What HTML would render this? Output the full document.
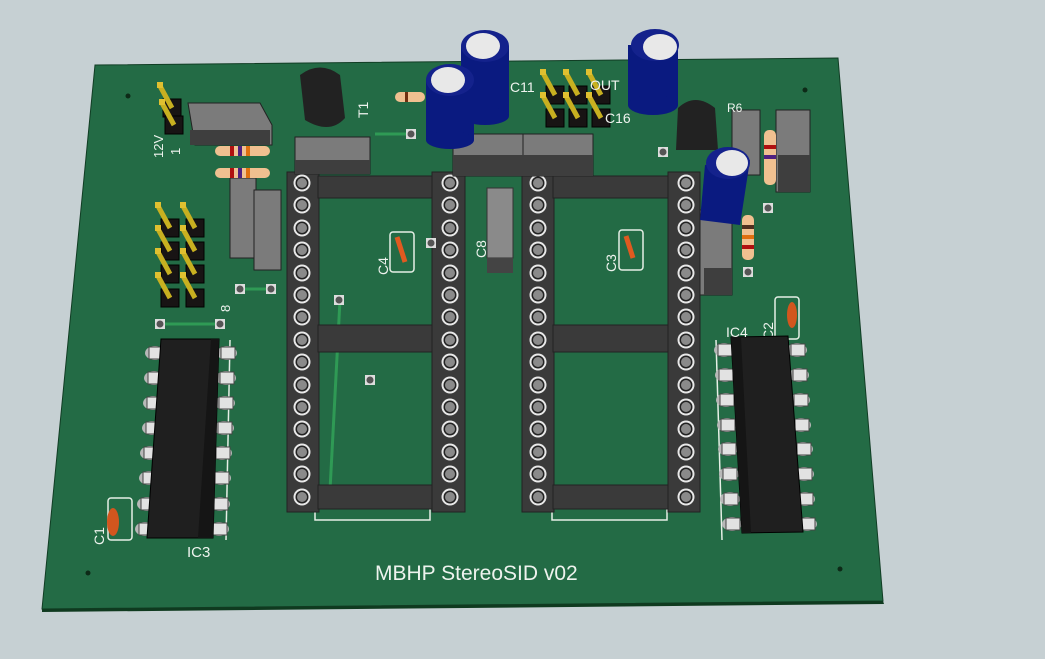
<!DOCTYPE html>
<html><head><meta charset="utf-8"><style>
html,body{margin:0;padding:0;background:#c6d0d3;width:1045px;height:659px;overflow:hidden}
svg{display:block}
text{font-family:"Liberation Sans",sans-serif;fill:#eef3ee}
</style></head><body>
<svg width="1045" height="659" viewBox="0 0 1045 659" xmlns="http://www.w3.org/2000/svg">
<defs>
<g id="pin"><circle r="8.5" fill="#e8e8e8"/><circle r="6.5" fill="#222"/><circle r="5" fill="#8a8a8a"/></g>
<g id="lg"><ellipse cx="0" cy="0" rx="10" ry="7" fill="#b8b8b8"/><rect x="-6" y="-6" width="14" height="12" fill="#e2e2e2" stroke="#444" stroke-width="1"/></g>
<g id="pad"><rect x="-5" y="-5" width="10" height="10" fill="#ddd"/><circle r="3.5" fill="#555"/></g>
<g id="hdr"><rect x="-9" y="-9" width="18" height="18" fill="#181414" stroke="#000"/><line x1="0" y1="0" x2="-12" y2="-22" stroke="#c8b020" stroke-width="5"/><rect x="-15" y="-26" width="6" height="6" fill="#e0c030"/></g>
</defs>
<polygon points="95,65 838,58 883,601 42,609" fill="#236b45" stroke="#113d24" stroke-width="1"/>
<polygon points="42,609 883,601 884,604 42,612" fill="#0f3a1f"/>
<circle cx="128" cy="96" r="2.5" fill="#0d2a17"/><circle cx="805" cy="90" r="2.5" fill="#0d2a17"/>
<circle cx="88" cy="573" r="2.5" fill="#0d2a17"/><circle cx="840" cy="569" r="2.5" fill="#0d2a17"/>
<g stroke="#2f9a55" stroke-width="3"><line x1="160" y1="324" x2="220" y2="324"/><line x1="240" y1="289" x2="270" y2="289"/><line x1="375" y1="134" x2="410" y2="134"/><line x1="340" y1="300" x2="330" y2="490"/></g>
<g fill="none" stroke="#e6efe6" stroke-width="1.5"><rect x="315" y="495" width="115" height="25"/><rect x="552" y="495" width="115" height="25"/><line x1="230" y1="340" x2="226" y2="540"/><line x1="716" y1="340" x2="722" y2="540"/></g>
<g fill="#3a3a3a" stroke="#222">
<rect x="287" y="172" width="32" height="340"/><rect x="432" y="172" width="33" height="340"/>
<rect x="318" y="176" width="114" height="22"/><rect x="318" y="325" width="114" height="27"/><rect x="318" y="485" width="114" height="24"/>
<rect x="522" y="172" width="32" height="340"/><rect x="668" y="172" width="32" height="340"/>
<rect x="553" y="176" width="115" height="22"/><rect x="553" y="325" width="115" height="27"/><rect x="553" y="485" width="115" height="24"/>
</g>
<g>
<use href="#pin" x="302" y="183"/><use href="#pin" x="302" y="205"/><use href="#pin" x="302" y="228"/><use href="#pin" x="302" y="250"/><use href="#pin" x="302" y="273"/><use href="#pin" x="302" y="295"/><use href="#pin" x="302" y="317"/><use href="#pin" x="302" y="340"/><use href="#pin" x="302" y="362"/><use href="#pin" x="302" y="385"/><use href="#pin" x="302" y="407"/><use href="#pin" x="302" y="429"/><use href="#pin" x="302" y="452"/><use href="#pin" x="302" y="474"/><use href="#pin" x="302" y="497"/>
<use href="#pin" x="450" y="183"/><use href="#pin" x="450" y="205"/><use href="#pin" x="450" y="228"/><use href="#pin" x="450" y="250"/><use href="#pin" x="450" y="273"/><use href="#pin" x="450" y="295"/><use href="#pin" x="450" y="317"/><use href="#pin" x="450" y="340"/><use href="#pin" x="450" y="362"/><use href="#pin" x="450" y="385"/><use href="#pin" x="450" y="407"/><use href="#pin" x="450" y="429"/><use href="#pin" x="450" y="452"/><use href="#pin" x="450" y="474"/><use href="#pin" x="450" y="497"/>
<use href="#pin" x="538" y="183"/><use href="#pin" x="538" y="205"/><use href="#pin" x="538" y="228"/><use href="#pin" x="538" y="250"/><use href="#pin" x="538" y="273"/><use href="#pin" x="538" y="295"/><use href="#pin" x="538" y="317"/><use href="#pin" x="538" y="340"/><use href="#pin" x="538" y="362"/><use href="#pin" x="538" y="385"/><use href="#pin" x="538" y="407"/><use href="#pin" x="538" y="429"/><use href="#pin" x="538" y="452"/><use href="#pin" x="538" y="474"/><use href="#pin" x="538" y="497"/>
<use href="#pin" x="686" y="183"/><use href="#pin" x="686" y="205"/><use href="#pin" x="686" y="228"/><use href="#pin" x="686" y="250"/><use href="#pin" x="686" y="273"/><use href="#pin" x="686" y="295"/><use href="#pin" x="686" y="317"/><use href="#pin" x="686" y="340"/><use href="#pin" x="686" y="362"/><use href="#pin" x="686" y="385"/><use href="#pin" x="686" y="407"/><use href="#pin" x="686" y="429"/><use href="#pin" x="686" y="452"/><use href="#pin" x="686" y="474"/><use href="#pin" x="686" y="497"/>
</g>
<rect x="390" y="232" width="24" height="40" rx="3" fill="none" stroke="#e6efe6" stroke-width="1.5"/><line x1="397" y1="237" x2="405" y2="262" stroke="#e05a20" stroke-width="5"/><text x="388" y="275" font-size="14" transform="rotate(-90 388 275)">C4</text>
<rect x="619" y="230" width="24" height="40" rx="3" fill="none" stroke="#e6efe6" stroke-width="1.5"/><line x1="626" y1="236" x2="633" y2="258" stroke="#e05a20" stroke-width="5"/><text x="616" y="272" font-size="14" transform="rotate(-90 616 272)">C3</text>
<rect x="108" y="498" width="24" height="42" rx="3" fill="none" stroke="#e6efe6" stroke-width="1.5"/><ellipse cx="113" cy="522" rx="6" ry="14" fill="#d2561e"/><text x="104" y="545" font-size="14" transform="rotate(-90 104 545)">C1</text>
<rect x="775" y="297" width="24" height="42" rx="3" fill="none" stroke="#e6efe6" stroke-width="1.5"/><ellipse cx="792" cy="315" rx="5" ry="13" fill="#d2561e"/><text x="773" y="340" font-size="14" transform="rotate(-90 773 340)">C2</text>
<rect x="487" y="188" width="26" height="70" fill="#8a8a8a" stroke="#333"/><rect x="487" y="258" width="26" height="15" fill="#444"/><text x="486" y="258" font-size="14" transform="rotate(-90 486 258)">C8</text>
<g><use href="#lg" x="155" y="353"/><use href="#lg" x="154" y="378"/><use href="#lg" x="153" y="403"/><use href="#lg" x="152" y="428"/><use href="#lg" x="150" y="453"/><use href="#lg" x="149" y="478"/><use href="#lg" x="147" y="504"/><use href="#lg" x="145" y="529"/>
<use href="#lg" x="227" y="353"/><use href="#lg" x="226" y="378"/><use href="#lg" x="225" y="403"/><use href="#lg" x="224" y="428"/><use href="#lg" x="222" y="453"/><use href="#lg" x="221" y="478"/><use href="#lg" x="220" y="504"/><use href="#lg" x="219" y="529"/></g>
<polygon points="161,339 219,339 213,538 147,538" fill="#1f1f1f" stroke="#000"/><polygon points="211,339 219,339 213,538 198,538" fill="#151515"/>
<text x="187" y="557" font-size="15">IC3</text>
<g><use href="#lg" x="724" y="350"/><use href="#lg" x="725" y="375"/><use href="#lg" x="726" y="400"/><use href="#lg" x="727" y="425"/><use href="#lg" x="728" y="449"/><use href="#lg" x="729" y="474"/><use href="#lg" x="730" y="499"/><use href="#lg" x="732" y="524"/>
<use href="#lg" x="797" y="350"/><use href="#lg" x="799" y="375"/><use href="#lg" x="800" y="400"/><use href="#lg" x="801" y="425"/><use href="#lg" x="803" y="449"/><use href="#lg" x="804" y="474"/><use href="#lg" x="805" y="499"/><use href="#lg" x="807" y="524"/></g>
<polygon points="731,337 788,336 803,532 742,533" fill="#1f1f1f" stroke="#000"/><polygon points="731,337 741,337 751,533 742,533" fill="#151515"/>
<text x="726" y="337" font-size="14">IC4</text>
<use href="#hdr" x="172" y="108"/><use href="#hdr" x="174" y="125"/>
<text x="163" y="158" font-size="13" transform="rotate(-90 163 158)">12V</text><text x="180" y="155" font-size="13" transform="rotate(-90 180 155)">1</text>
<use href="#hdr" x="170" y="228"/><use href="#hdr" x="195" y="228"/><use href="#hdr" x="170" y="251"/><use href="#hdr" x="195" y="251"/><use href="#hdr" x="170" y="274"/><use href="#hdr" x="195" y="274"/><use href="#hdr" x="170" y="298"/><use href="#hdr" x="195" y="298"/>
<text x="230" y="312" font-size="13" transform="rotate(-90 230 312)">8</text>
<use href="#hdr" x="555" y="95"/><use href="#hdr" x="578" y="95"/><use href="#hdr" x="601" y="95"/><use href="#hdr" x="555" y="118"/><use href="#hdr" x="578" y="118"/><use href="#hdr" x="601" y="118"/>
<text x="510" y="92" font-size="14">C11</text><text x="590" y="90" font-size="14">OUT</text><text x="605" y="123" font-size="14">C16</text>
<g fill="#7b7b7b" stroke="#222">
<polygon points="188,103 260,103 272,125 272,145 195,145"/>
<rect x="295" y="137" width="75" height="37"/>
<rect x="453" y="134" width="70" height="42"/><rect x="523" y="134" width="70" height="42"/>
<rect x="230" y="178" width="26" height="80"/><rect x="254" y="190" width="27" height="80"/>
<rect x="732" y="110" width="28" height="65"/><rect x="776" y="110" width="34" height="82"/>
<rect x="700" y="210" width="32" height="85"/>
</g>
<g fill="#3e3e3e"><rect x="295" y="160" width="75" height="14"/><rect x="453" y="155" width="140" height="21"/><rect x="190" y="130" width="80" height="15"/><rect x="704" y="268" width="28" height="27"/><rect x="778" y="155" width="32" height="37"/></g>
<path d="M300,75 Q320,60 340,75 L345,118 Q330,135 305,120 Z" fill="#222"/><text x="368" y="118" font-size="14" transform="rotate(-90 368 118)">T1</text>
<path d="M678,108 Q695,92 715,108 L718,150 L676,150 Z" fill="#222"/>
<g><rect x="215" y="146" width="55" height="10" rx="5" fill="#f0c090"/><rect x="230" y="146" width="4" height="10" fill="#b01010"/><rect x="238" y="146" width="4" height="10" fill="#502080"/><rect x="246" y="146" width="4" height="10" fill="#e07010"/>
<rect x="215" y="168" width="55" height="10" rx="5" fill="#f0c090"/><rect x="230" y="168" width="4" height="10" fill="#b01010"/><rect x="238" y="168" width="4" height="10" fill="#502080"/><rect x="246" y="168" width="4" height="10" fill="#e07010"/>
<rect x="395" y="92" width="30" height="10" rx="5" fill="#f0c090"/><rect x="405" y="92" width="3" height="10" fill="#703010"/>
<rect x="742" y="215" width="12" height="45" rx="5" fill="#f0c090"/><rect x="742" y="225" width="12" height="4" fill="#503020"/><rect x="742" y="235" width="12" height="4" fill="#e07010"/><rect x="742" y="245" width="12" height="4" fill="#b01010"/>
<rect x="764" y="130" width="12" height="55" rx="5" fill="#f0c090"/><rect x="764" y="145" width="12" height="4" fill="#b01010"/><rect x="764" y="155" width="12" height="4" fill="#502080"/></g>
<text x="727" y="112" font-size="12">R6</text>
<g>
<rect x="461" y="46" width="48" height="70" fill="#0a1a80"/><ellipse cx="485" cy="116" rx="24" ry="9" fill="#0a1a80"/><ellipse cx="485" cy="46" rx="24" ry="16" fill="#14228c"/><ellipse cx="483" cy="46" rx="17" ry="13" fill="#e8e8e8"/>
<rect x="426" y="80" width="48" height="60" fill="#0a1a80"/><ellipse cx="450" cy="140" rx="24" ry="9" fill="#0a1a80"/><ellipse cx="450" cy="80" rx="24" ry="16" fill="#14228c"/><ellipse cx="448" cy="80" rx="17" ry="13" fill="#e8e8e8"/>
<rect x="628" y="45" width="50" height="60" fill="#0a1a80"/><ellipse cx="653" cy="105" rx="25" ry="10" fill="#0a1a80"/><ellipse cx="655" cy="45" rx="24" ry="16" fill="#14228c"/><ellipse cx="660" cy="47" rx="17" ry="13" fill="#e8e8e8"/>
<polygon points="705,165 750,160 740,225 700,220" fill="#0a1a80"/><ellipse cx="728" cy="163" rx="22" ry="16" fill="#14228c"/><ellipse cx="732" cy="163" rx="16" ry="13" fill="#e8e8e8"/>
</g>
<use href="#pad" x="160" y="324"/><use href="#pad" x="220" y="324"/><use href="#pad" x="240" y="289"/><use href="#pad" x="271" y="289"/><use href="#pad" x="339" y="300"/><use href="#pad" x="370" y="380"/><use href="#pad" x="431" y="243"/><use href="#pad" x="411" y="134"/><use href="#pad" x="768" y="208"/><use href="#pad" x="748" y="272"/><use href="#pad" x="663" y="152"/>
<text x="375" y="580" font-size="21">MBHP StereoSID v02</text>
</svg>
</body></html>
